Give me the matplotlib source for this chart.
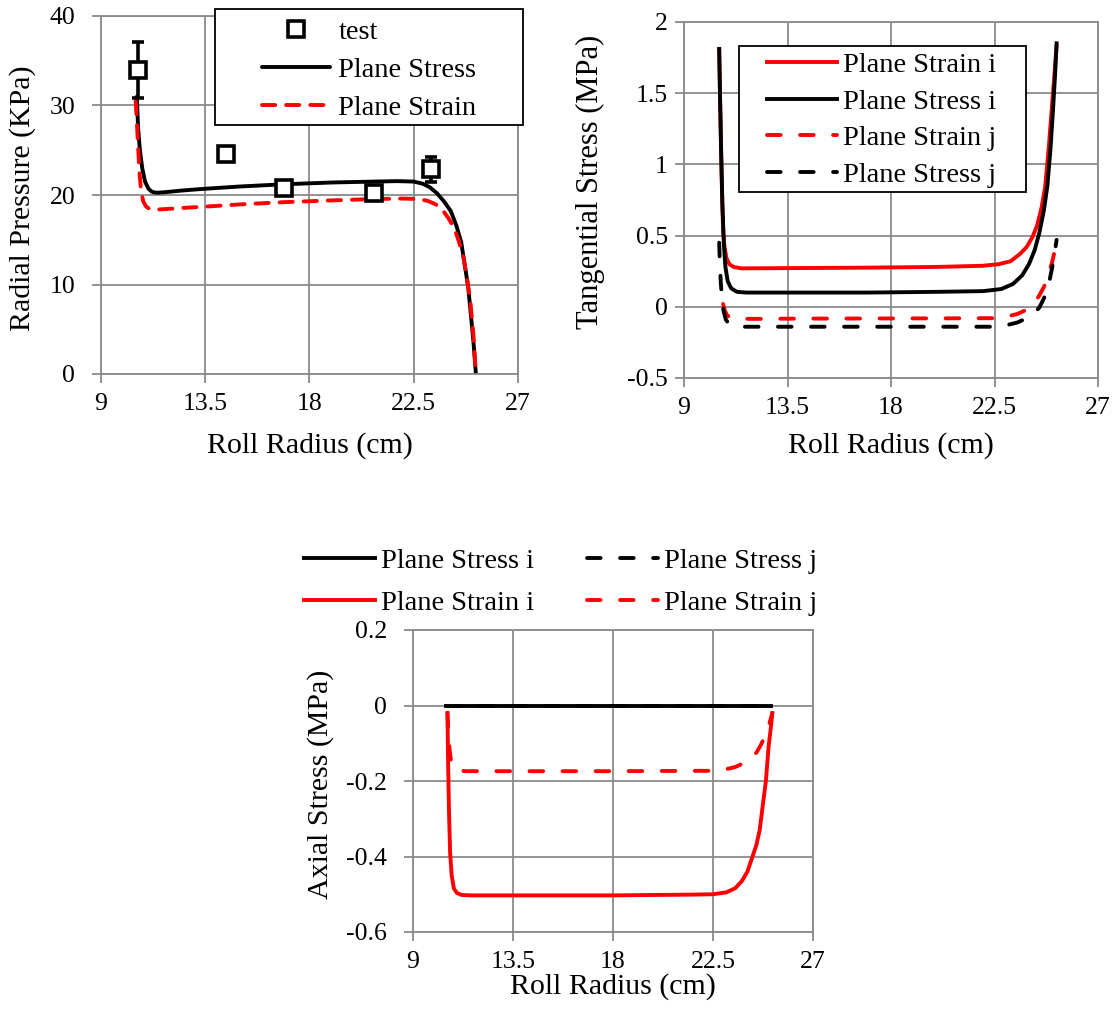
import numpy as np
import matplotlib
matplotlib.use("Agg")
import matplotlib.pyplot as plt
from matplotlib.patches import Rectangle

plt.rcParams['font.family'] = ['Liberation Serif', 'DejaVu Serif']
plt.rcParams['axes.unicode_minus'] = False

# --- radial pressure (top left) ---
test_r = [10.6, 14.4, 16.9, 20.8, 23.25]
test_p = [34.0, 24.6, 20.8, 20.2, 22.9]
test_err = [3.15, 0.0, 0.0, 0.0, 1.4]

pstress_r = [10.55, 10.6, 10.68, 10.78, 10.9, 11.05, 11.2, 11.4, 11.7, 12.5, 13.5, 15.0, 16.9,
             19.0, 20.8, 21.8, 22.5, 22.9, 23.2, 23.5, 23.8, 24.1, 24.35, 24.55, 24.7, 24.85,
             24.97, 25.08, 25.18]
pstress_p = [31.0, 27.5, 25.0, 23.0, 21.5, 20.7, 20.35, 20.25, 20.3, 20.5, 20.7, 20.95, 21.2,
             21.4, 21.5, 21.55, 21.5, 21.25, 20.85, 20.2, 19.3, 18.2, 16.5, 14.7, 12.2, 9.7,
             6.5, 3.5, 0.1]
pstrain_r = [10.5, 10.55, 10.6, 10.66, 10.73, 10.82, 10.95, 11.1, 11.3, 11.6, 12.5, 13.5, 15.0,
             16.9, 19.0, 20.8, 22.0, 22.7, 23.1, 23.45, 23.75, 24.0, 24.25, 24.45, 24.65,
             24.82, 24.95, 25.07, 25.18]
pstrain_p = [30.5, 28.0, 25.5, 22.5, 20.5, 19.3, 18.7, 18.45, 18.35, 18.4, 18.55, 18.7, 18.95,
             19.2, 19.4, 19.55, 19.6, 19.55, 19.35, 18.95, 18.3, 17.4, 16.3, 14.8, 13.0,
             10.3, 7.9, 4.5, 0.1]

# --- tangential stress (top right) ---
tan_r_si = [10.53, 10.57, 10.62, 10.67, 10.73, 10.8, 10.9, 11.05, 11.3, 11.7, 14.0, 17.0, 20.0,
            22.0, 22.8, 23.3, 23.7, 24.0, 24.25, 24.45, 24.65, 24.8, 24.93, 25.05, 25.13, 25.2]
tan_si = [1.81, 1.45, 1.05, 0.72, 0.45, 0.28, 0.18, 0.13, 0.105, 0.1, 0.1, 0.1, 0.105,
          0.11, 0.125, 0.16, 0.22, 0.3, 0.4, 0.52, 0.68, 0.85, 1.1, 1.4, 1.62, 1.85]
tan_r_ei = [10.53, 10.57, 10.62, 10.66, 10.7, 10.76, 10.85, 10.97, 11.15, 11.5, 14.0, 17.0,
            20.0, 22.0, 22.7, 23.2, 23.6, 23.9, 24.15, 24.35, 24.55, 24.7, 24.85, 24.98, 25.1,
            25.2]
tan_ei = [1.81, 1.45, 1.05, 0.75, 0.55, 0.42, 0.34, 0.3, 0.28, 0.27, 0.272, 0.275,
          0.28, 0.288, 0.3, 0.32, 0.37, 0.42, 0.49, 0.57, 0.7, 0.84, 1.1, 1.37, 1.62, 1.83]
tan_r_ej = [10.7, 10.78, 10.88, 11.0, 11.3, 12.0, 14.0, 17.0, 20.0, 22.4, 23.0, 23.5, 23.9,
            24.2, 24.45, 24.65, 24.85, 25.0, 25.1, 25.2]
tan_ej = [0.02, -0.03, -0.06, -0.075, -0.083, -0.085, -0.083, -0.082, -0.081, -0.08, -0.07,
          -0.05, -0.02, 0.02, 0.08, 0.14, 0.23, 0.31, 0.38, 0.46]
tan_r_sj = [10.53, 10.56, 10.6, 10.65, 10.72, 10.82, 10.95, 11.15, 11.6, 14.0, 17.0, 20.0,
            22.4, 23.0, 23.5, 23.9, 24.2, 24.45, 24.65, 24.85, 25.0, 25.1, 25.2]
tan_sj = [0.45, 0.3, 0.17, 0.06, -0.03, -0.09, -0.12, -0.135, -0.14, -0.14, -0.14, -0.14,
          -0.14, -0.13, -0.11, -0.08, -0.05, -0.005, 0.06, 0.15, 0.27, 0.36, 0.47]

# --- axial stress (bottom) ---
ax_r_s = [10.5, 14.0, 18.0, 22.0, 25.1]
ax_s = [0.0, 0.0, 0.0, 0.0, 0.0]
ax_r_ei = [10.55, 10.58, 10.62, 10.67, 10.74, 10.84, 10.98, 11.2, 11.6, 14.0, 18.0, 21.5, 22.5,
           23.1, 23.5, 23.8, 24.05, 24.25, 24.45, 24.6, 24.75, 24.88, 25.0, 25.1, 25.17]
ax_ei = [-0.02, -0.15, -0.28, -0.39, -0.45, -0.485, -0.497, -0.502, -0.503, -0.503, -0.503,
         -0.501, -0.5, -0.495, -0.484, -0.465, -0.44, -0.405, -0.37, -0.33, -0.26, -0.2, -0.11,
         -0.06, -0.02]
ax_r_ej = [10.55, 10.6, 10.65, 10.72, 10.82, 11.0, 11.4, 14.0, 18.0, 22.4, 23.0, 23.5, 23.9,
           24.2, 24.45, 24.65, 24.85, 25.0, 25.1, 25.17]
ax_ej = [-0.02, -0.08, -0.12, -0.15, -0.165, -0.172, -0.174, -0.174, -0.174, -0.173, -0.17,
         -0.163, -0.152, -0.14, -0.125, -0.105, -0.08, -0.055, -0.035, -0.02]

xticks = [9, 13.5, 18, 22.5, 27]
xticklabels = ['9', '13.5', '18', '22.5', '27']

TFS = 18.5   # tick labels
LFS = 21.5   # axis labels
GFS = 20.5   # legends
LW = 2.8
GRID = '#8a8a8a'
RED = '#ff0000'
DASH = (3.5, 5.0)
W, H = 1118, 1010

fig = plt.figure(figsize=(11.18, 10.1), dpi=100)


def style(ax, yticks, ylabels, ypad):
    ax.set_xlim(9, 27)
    ax.set_xticks(xticks)
    ax.set_xticklabels(xticklabels)
    ax.set_ylim(yticks[0], yticks[-1])
    ax.set_yticks(yticks)
    ax.set_yticklabels(ylabels)
    ax.grid(True, color=GRID, linewidth=1.3)
    for s in ax.spines.values():
        s.set_color(GRID)
        s.set_linewidth(1.3)
    ax.tick_params(direction='out', length=6.5, width=1.3, color=GRID, labelsize=TFS)
    ax.tick_params(axis='x', pad=7)
    ax.tick_params(axis='y', pad=ypad)
    ax.set_axisbelow(True)


def labels(ax, xl, yl, xy, yx, yy, yfs=LFS):
    ax.set_xlabel(xl, fontsize=LFS, va='center')
    ax.set_ylabel(yl, fontsize=yfs, va='center')
    ax.xaxis.set_label_coords(0.5, xy)
    ax.yaxis.set_label_coords(yx, yy)


def legend_box(x0, y0, x1, y1):
    # white framed box in pixel coords (top-left origin)
    fig.add_artist(Rectangle((x0 / W, 1 - y1 / H), (x1 - x0) / W, (y1 - y0) / H,
                             transform=fig.transFigure, facecolor='white',
                             edgecolor='black', lw=1.3, zorder=3))


# top left
ax1 = fig.add_axes([101 / W, 1 - 374 / H, 417 / W, 358 / H])
style(ax1, [0, 10, 20, 30, 40], ['0', '10', '20', '30', '40'], 12)
l_stress, = ax1.plot(pstress_r, pstress_p, color='black', lw=LW, solid_capstyle='round')
l_strain, = ax1.plot(pstrain_r, pstrain_p, color=RED, lw=LW, dashes=(3.4, 2.8),
                     dash_capstyle='round')
ax1.errorbar(test_r, test_p, yerr=test_err, fmt='none', ecolor='black', elinewidth=2.6,
             capsize=4.5, capthick=2.6, zorder=4)
m_test, = ax1.plot(test_r, test_p, 's', ms=12, mfc='white', mec='black', mew=2.6, zorder=5)
labels(ax1, 'Roll Radius (cm)', 'Radial Pressure (KPa)', -0.201, -0.187, 0.49)

legend_box(215, 9, 523, 125)
fig.legend([m_test, l_stress, l_strain], ['test', 'Plane Stress', 'Plane Strain'],
           loc='upper left', bbox_to_anchor=(262 / W, 1 - 19 / H), fontsize=GFS,
           frameon=False, borderpad=0, borderaxespad=0, handlelength=2.4,
           labelspacing=0.43, handletextpad=0.28)

# top right
ax2 = fig.add_axes([684 / W, 1 - 378 / H, 414 / W, 356 / H])
style(ax2, [-0.5, 0, 0.5, 1, 1.5, 2], ['-0.5', '0', '0.5', '1', '1.5', '2'], 5)
t1, = ax2.plot(tan_r_ei, tan_ei, color=RED, lw=LW)
t2, = ax2.plot(tan_r_si, tan_si, color='black', lw=LW)
t3, = ax2.plot(tan_r_ej, tan_ej, color=RED, lw=LW, dashes=DASH, dash_capstyle='round')
t4, = ax2.plot(tan_r_sj, tan_sj, color='black', lw=LW, dashes=DASH, dash_capstyle='round')
labels(ax2, 'Roll Radius (cm)', 'Tangential Stress (MPa)', -0.191, -0.227, 0.55, yfs=22)

legend_box(739, 46, 1026, 192)
fig.legend([t1, t2, t3, t4], ['Plane Strain i', 'Plane Stress i', 'Plane Strain j',
                              'Plane Stress j'],
           loc='upper left', bbox_to_anchor=(767 / W, 1 - 52 / H), fontsize=GFS,
           frameon=False, borderpad=0, borderaxespad=0, handlelength=2.46,
           labelspacing=0.38, handletextpad=0.2)

# bottom
ax3 = fig.add_axes([413 / W, 1 - 932 / H, 400 / W, 302 / H])
style(ax3, [-0.6, -0.4, -0.2, 0, 0.2], ['-0.6', '-0.4', '-0.2', '0', '0.2'], 12)
h1, = ax3.plot(ax_r_s, ax_s, color='black', lw=LW)
h2, = ax3.plot(ax_r_ei, ax_ei, color=RED, lw=LW)
h3, = ax3.plot(ax_r_s, ax_s, color='black', lw=LW, dashes=DASH, dash_capstyle='round')
h4, = ax3.plot(ax_r_ej, ax_ej, color=RED, lw=LW, dashes=DASH, dash_capstyle='round')
labels(ax3, 'Roll Radius (cm)', 'Axial Stress (MPa)', -0.182, -0.232, 0.49)
fig.legend([h1, h2, h3, h4], ['Plane Stress i', 'Plane Strain i', 'Plane Stress j',
                              'Plane Strain j'],
           loc='upper left', bbox_to_anchor=(304 / W, 1 - 548 / H), ncol=2, fontsize=GFS,
           frameon=False, borderpad=0, borderaxespad=0, handlelength=2.5,
           labelspacing=0.55, handletextpad=0.2, columnspacing=1.85)

fig.savefig('out.png', dpi=100)
